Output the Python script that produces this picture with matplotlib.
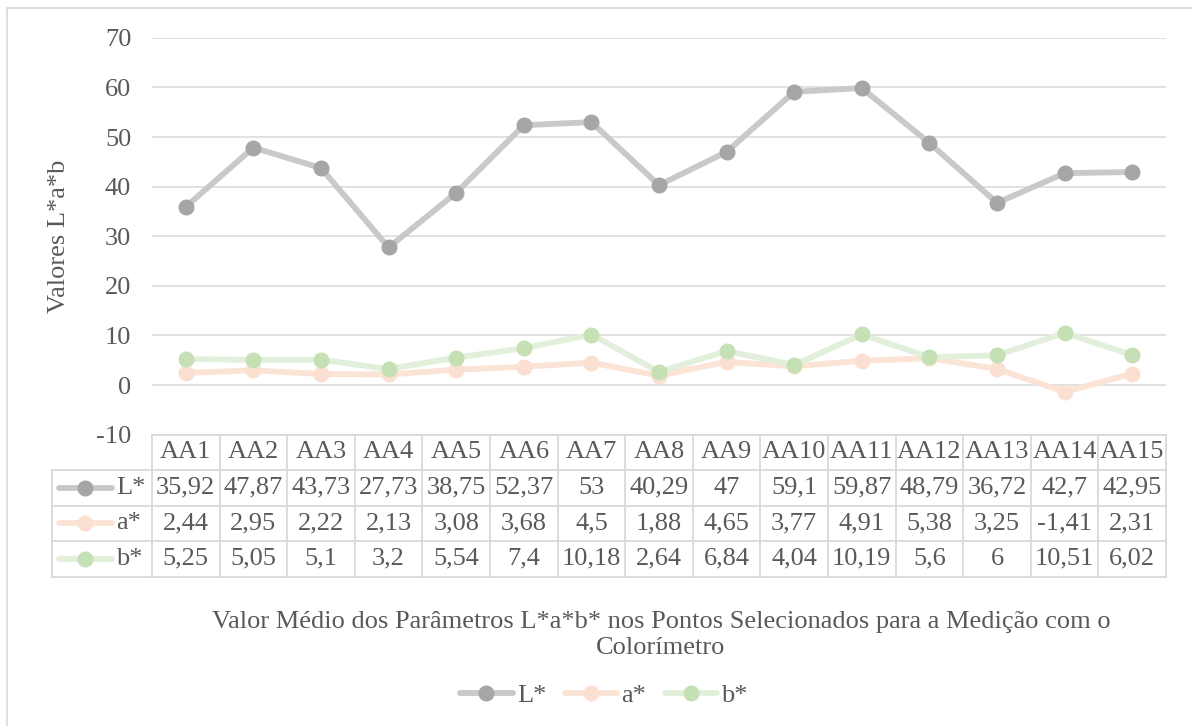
import matplotlib.pyplot as plt
from matplotlib.lines import Line2D
from matplotlib.patches import Rectangle
from matplotlib.transforms import blended_transform_factory

# valores médios medidos em cada ponto
pontos = ['AA1', 'AA2', 'AA3', 'AA4', 'AA5', 'AA6', 'AA7', 'AA8',
          'AA9', 'AA10', 'AA11', 'AA12', 'AA13', 'AA14', 'AA15']
l_vals = [35.92, 47.87, 43.73, 27.73, 38.75, 52.37, 53, 40.29,
          47, 59.1, 59.87, 48.79, 36.72, 42.7, 42.95]
a_vals = [2.44, 2.95, 2.22, 2.13, 3.08, 3.68, 4.5, 1.88,
          4.65, 3.77, 4.91, 5.38, 3.25, -1.41, 2.31]
b_vals = [5.25, 5.05, 5.1, 3.2, 5.54, 7.4, 10.18, 2.64,
          6.84, 4.04, 10.19, 5.6, 6, 10.51, 6.02]
series_names = ['L*', 'a*', 'b*']
y_ticks = [-10, 0, 10, 20, 30, 40, 50, 60, 70]

W, H = 1192, 726
TXT = '#595959'
GRID = '#D9D9D9'
FONT = 'Liberation Serif'
FS = 19
LW = 4.2
MS = 10.5
estilos = [
    dict(color='#C9C9C9', mfc='#A8A5A5', mec='#A8A5A5'),
    dict(color='#FBE3D6', mfc='#FBE0D2', mec='#FBE0D2'),
    dict(color='#E2EFDA', mfc='#C5E0B4', mec='#C5E0B4'),
]

plt.rcParams['font.family'] = [FONT, 'DejaVu Serif']

fig = plt.figure(figsize=(W / 100, H / 100), dpi=100)

# moldura do gráfico
fig.patches.append(Rectangle((7 / W, -0.1), 1.2, 1 - 8 / H + 0.1,
                             transform=fig.transFigure, fill=False,
                             edgecolor=GRID, linewidth=1.2))


def fy(py):
    return 1 - py / H


left, right = 152, 1166
top, bottom = 37.8, 434.6
ax = fig.add_axes([left / W, fy(bottom), (right - left) / W, (bottom - top) / H])
x = list(range(len(pontos)))
ax.set_xlim(-0.5, len(pontos) - 0.5)
ax.set_ylim(-10, 70)
ax.set_yticks(y_ticks)
ax.set_yticklabels([str(v) for v in y_ticks], fontsize=FS, color=TXT)
ax.tick_params(axis='y', length=0, pad=15)
ax.set_xticks([])
ax.grid(axis='y', color=GRID, linewidth=1.1)
ax.set_axisbelow(True)
for s in ax.spines.values():
    s.set_visible(False)

handles = []
for vals, name, st in zip([l_vals, a_vals, b_vals], series_names, estilos):
    h, = ax.plot(x, vals, marker='o', markersize=MS, linewidth=LW,
                 label=name, solid_capstyle='round', solid_joinstyle='round',
                 clip_on=False, **st)
    handles.append(h)

fig.text(59 / W, fy(236), 'Valores L*a*b', rotation=90, fontsize=FS,
         color=TXT, ha='center', va='center')

# tabela de dados abaixo do eixo
tr = blended_transform_factory(ax.transData, fig.transFigure)
col_w = (right - left) / len(pontos)
x_lab = -0.5 - (left - 52) / col_w
rows_y = [434.6, 470, 505.5, 541, 576.5]
lw_t = 1.3

# linhas horizontais
ax.add_line(Line2D([-0.5, len(pontos) - 0.5], [fy(rows_y[0])] * 2, transform=tr,
                   color=GRID, lw=lw_t, clip_on=False))
for yy in rows_y[1:]:
    ax.add_line(Line2D([x_lab, len(pontos) - 0.5], [fy(yy)] * 2, transform=tr,
                       color=GRID, lw=lw_t, clip_on=False))
# linhas verticais
for i in range(len(pontos) + 1):
    ax.add_line(Line2D([i - 0.5] * 2, [fy(rows_y[0]), fy(rows_y[-1])], transform=tr,
                       color=GRID, lw=lw_t, clip_on=False))
ax.add_line(Line2D([x_lab] * 2, [fy(rows_y[1]), fy(rows_y[-1])], transform=tr,
                   color=GRID, lw=lw_t, clip_on=False))

yc = [(rows_y[k] + rows_y[k + 1]) / 2 for k in range(4)]
for i, p in enumerate(pontos):
    ax.text(i, fy(yc[0]), p, transform=tr, ha='center', va='center',
            fontsize=FS, color=TXT)


def fmt(v):
    s = f'{v:.2f}'.rstrip('0').rstrip('.')
    return s.replace('.', ',')


for r, (vals, name, st) in enumerate(zip([l_vals, a_vals, b_vals], series_names, estilos)):
    yrow = fy(yc[r + 1])
    for i, v in enumerate(vals):
        ax.text(i, yrow, fmt(v), transform=tr, ha='center', va='center',
                fontsize=FS, color=TXT)
    # chave da série na primeira coluna
    x0 = x_lab + (59 - 52) / col_w
    x1 = x_lab + (112 - 52) / col_w
    xm = x_lab + (85 - 52) / col_w
    ax.add_line(Line2D([x0, x1], [yrow, yrow], transform=tr, color=st['color'],
                       lw=LW, solid_capstyle='round', clip_on=False))
    ax.add_line(Line2D([xm], [yrow], transform=tr, marker='o', markersize=MS,
                       mfc=st['mfc'], mec=st['mec'], clip_on=False))
    ax.text(x_lab + (116 - 52) / col_w, yrow, name, transform=tr, ha='left',
            va='center', fontsize=FS, color=TXT)

fig.text(661 / W, fy(622),
         'Valor Médio dos Parâmetros L*a*b* nos Pontos Selecionados para a Medição com o',
         ha='center', va='center', fontsize=FS, color=TXT)
fig.text(661 / W, fy(648), 'Colorímetro', ha='center', va='center',
         fontsize=FS, color=TXT)

fig.legend(handles=handles, loc='center', bbox_to_anchor=(604 / W, fy(695)),
           ncol=3, frameon=False, fontsize=FS, labelcolor=TXT,
           handlelength=2.0, handletextpad=0.15, columnspacing=0.7)

fig.savefig('out.png', dpi=100, facecolor='white')
